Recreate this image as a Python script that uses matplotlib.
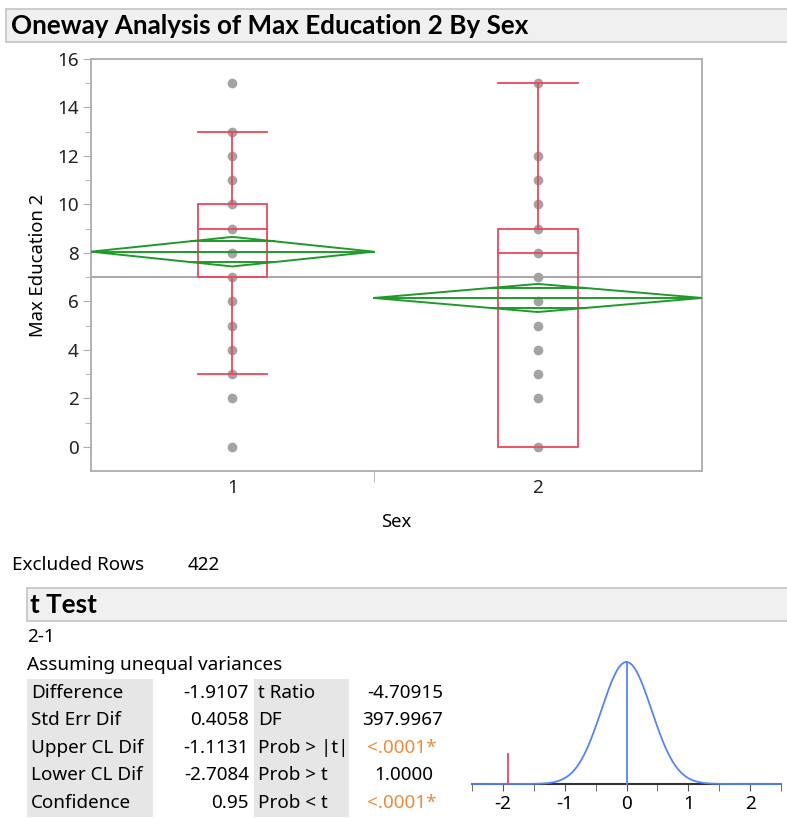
import numpy as np
import matplotlib.pyplot as plt
from matplotlib.patches import Rectangle, Polygon

# Figure size in pixels
W, H = 787, 818

# Oneway data
sex_levels = ['1', '2']
group_n = [186, 216]
group_means = [8.05, 6.14]
ci_half = [0.61, 0.58]
grand_mean = 7.01
box_q1 = [7, 0]
box_median = [9, 8]
box_q3 = [10, 9]
whisker_low = [3, 0]
whisker_high = [13, 15]
points_sex1 = [0, 2, 3, 4, 5, 6, 7, 8, 9, 10, 11, 12, 13, 15]
points_sex2 = [0, 2, 3, 4, 5, 6, 7, 8, 9, 10, 11, 12, 15]
y_ticks = [0, 2, 4, 6, 8, 10, 12, 14, 16]

# t test report
excluded_rows = 422
stat_labels_left = ['Difference', 'Std Err Dif', 'Upper CL Dif', 'Lower CL Dif', 'Confidence']
stat_values_left = ['-1.9107', '0.4058', '-1.1131', '-2.7084', '0.95']
stat_labels_right = ['t Ratio', 'DF', 'Prob > |t|', 'Prob > t', 'Prob < t']
stat_values_right = ['-4.70915', '397.9967', '<.0001*', '1.0000', '<.0001*']
difference = -1.9107
std_err_dif = 0.4058
t_ticks = [-2, -1, 0, 1, 2]

RED = '#F0455C'
GREEN = '#1F9A2A'
GRAY_PT = '#A3A3A3'
SPINE = '#ADADAD'
ORANGE = '#EE8A3C'
BLUE = '#5585F5'
FS = 13.6

plt.rcParams['font.family'] = ['Noto Sans', 'DejaVu Sans']
plt.rcParams['axes.unicode_minus'] = False
BOLD = ['Lato', 'DejaVu Sans']


def fx(x):
    return x / W


def fy(y):
    return 1 - y / H


fig = plt.figure(figsize=(W / 100, H / 100), dpi=100)

# Title bar
fig.add_artist(Rectangle((fx(6), fy(42)), fx(790 - 6), 33 / H, transform=fig.transFigure,
                         facecolor='#F0F0F0', edgecolor='#C4C4C4', lw=1.2))
fig.text(fx(11), fy(26), 'Oneway Analysis of Max Education 2 By Sex', fontsize=18.7,
         fontweight='bold', family=BOLD, va='center', ha='left')

# Main oneway plot
ax = fig.add_axes([fx(91), fy(471), fx(702 - 91), (471 - 59) / H])
edges = np.concatenate([[0], np.cumsum(group_n)])
centers = (edges[:-1] + edges[1:]) / 2

ax.axhline(grand_mean, color='#A0A0A0', lw=1.3, zorder=1)

for i, pts in enumerate([points_sex1, points_sex2]):
    c = centers[i]
    ax.plot([c] * len(pts), pts, 'o', color=GRAY_PT, ms=7, mec='none', zorder=2)

    # outlier box
    bw = 0.245 * group_n[i]
    ax.add_patch(Rectangle((c - bw / 2, box_q1[i]), bw, box_q3[i] - box_q1[i],
                           fill=False, edgecolor=RED, lw=1.3, zorder=3))
    ax.plot([c - bw / 2, c + bw / 2], [box_median[i]] * 2, color=RED, lw=1.3, zorder=3)
    if whisker_low[i] < box_q1[i]:
        ax.plot([c, c], [whisker_low[i], box_q1[i]], color=RED, lw=1.3, zorder=3)
        ax.plot([c - bw / 2, c + bw / 2], [whisker_low[i]] * 2, color=RED, lw=1.3, zorder=3)
    if whisker_high[i] > box_q3[i]:
        ax.plot([c, c], [box_q3[i], whisker_high[i]], color=RED, lw=1.3, zorder=3)
        ax.plot([c - bw / 2, c + bw / 2], [whisker_high[i]] * 2, color=RED, lw=1.3, zorder=3)

    # means diamond
    left, right = edges[i], edges[i + 1]
    m, h = group_means[i], ci_half[i]
    ax.add_patch(Polygon([(left, m), (c, m + h), (right, m), (c, m - h)], closed=True,
                         fill=False, edgecolor=GREEN, lw=1.4, zorder=4))
    ax.plot([left, right], [m, m], color=GREEN, lw=1.4, zorder=4)
    ov = h / np.sqrt(2)
    half = (right - left) / 2 * (1 - 1 / np.sqrt(2))
    for yy in (m + ov, m - ov):
        ax.plot([c - half, c + half], [yy, yy], color=GREEN, lw=1.4, zorder=4)

ax.set_xlim(edges[0], edges[-1])
ax.set_ylim(-1, 16)
ax.set_yticks(y_ticks)
ax.set_yticks(np.arange(1, 16, 2), minor=True)
ax.set_xticks(centers)
ax.set_xticklabels(sex_levels)
ax.set_xticks(edges[1:-1], minor=True)
ax.tick_params(axis='y', which='major', length=6, color=SPINE, labelsize=FS, labelcolor='#222222', pad=3)
ax.tick_params(axis='y', which='minor', length=4, color=SPINE)
ax.tick_params(axis='x', which='major', length=0, labelsize=FS, labelcolor='#222222', pad=6)
ax.tick_params(axis='x', which='minor', length=8, color=SPINE)
for s in ax.spines.values():
    s.set_color(SPINE)
    s.set_linewidth(1.3)
ax.set_ylabel('Max Education 2', fontsize=13.3, labelpad=7)
ax.set_xlabel('Sex', fontsize=13.3, labelpad=11)

# Excluded rows
fig.text(fx(12), fy(565), 'Excluded Rows', fontsize=FS, va='center')
fig.text(fx(188), fy(565), str(excluded_rows), fontsize=FS, va='center')

# t Test bar
fig.add_artist(Rectangle((fx(27), fy(621)), fx(790 - 27), 33 / H, transform=fig.transFigure,
                         facecolor='#F0F0F0', edgecolor='#C4C4C4', lw=1.2))
fig.text(fx(30), fy(605), 't Test', fontsize=18.7, fontweight='bold', family=BOLD, va='center')
fig.text(fx(27), fy(637), '2-1', fontsize=FS, va='center')
fig.text(fx(27), fy(665), 'Assuming unequal variances', fontsize=FS, va='center')

# shaded label columns
row_h = 27.5
top = 679
fig.add_artist(Rectangle((fx(27), fy(top + row_h * 5)), fx(153 - 27), row_h * 5 / H,
                         transform=fig.transFigure, facecolor='#E6E6E6', edgecolor='none'))
fig.add_artist(Rectangle((fx(254), fy(top + row_h * 5)), fx(349 - 254), row_h * 5 / H,
                         transform=fig.transFigure, facecolor='#E6E6E6', edgecolor='none'))
right_val_x = [443, 443, 437, 433, 437]
for r in range(5):
    yy = fy(top + row_h * (r + 0.5))
    fig.text(fx(31), yy, stat_labels_left[r], fontsize=FS, va='center')
    fig.text(fx(249), yy, stat_values_left[r], fontsize=FS, va='center', ha='right')
    fig.text(fx(258), yy, stat_labels_right[r], fontsize=FS, va='center')
    col = ORANGE if stat_values_right[r].startswith('<') else 'black'
    fig.text(fx(right_val_x[r]), yy, stat_values_right[r], fontsize=FS, va='center',
             ha='right', color=col)

# t distribution sketch
axt = fig.add_axes([fx(472), fy(784), fx(781 - 472), 122 / H])
xs = np.linspace(-2.5, 2.5, 400)
dens = np.exp(-0.5 * (xs / std_err_dif) ** 2) / (std_err_dif * np.sqrt(2 * np.pi))
peak = dens.max()
axt.plot(xs, dens, color=BLUE, lw=1.3, clip_on=False, zorder=3)
axt.plot([0, 0], [0, peak], color=BLUE, lw=1.3, clip_on=False, zorder=3)
axt.plot([difference, difference], [0, 0.245 * peak], color=RED, lw=1.3, clip_on=False, zorder=3)
axt.set_xlim(-2.5, 2.5)
axt.set_ylim(0, peak)
axt.set_xticks(t_ticks)
axt.set_xticks(np.arange(-2.5, 2.6, 0.5), minor=True)
axt.tick_params(axis='x', which='both', length=5, color='#555555', labelsize=FS, pad=3)
axt.set_yticks([])
for s in ['top', 'left', 'right']:
    axt.spines[s].set_visible(False)
axt.spines['bottom'].set_color('#333333')
axt.spines['bottom'].set_linewidth(1.5)
axt.spines['bottom'].set_zorder(2)
axt.patch.set_alpha(0)

fig.savefig('out.png', dpi=100)
